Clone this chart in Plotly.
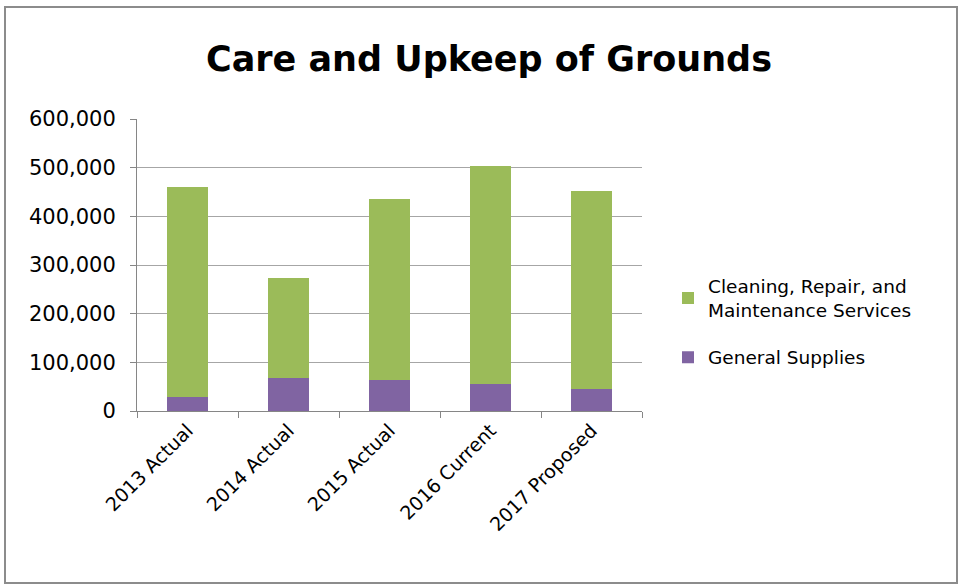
import plotly.graph_objects as go

categories = ["2013 Actual", "2014 Actual", "2015 Actual", "2016 Current", "2017 Proposed"]
general_supplies = [29000, 68000, 63000, 55000, 45000]
cleaning_services = [432000, 205000, 372000, 449000, 408000]
tick_vals = [0, 100000, 200000, 300000, 400000, 500000, 600000]
tick_text = ["0", "100,000", "200,000", "300,000", "400,000", "500,000", "600,000"]

FONT = "DejaVu Sans, sans-serif"

fig = go.Figure()
fig.add_trace(go.Bar(x=categories, y=general_supplies, name="General Supplies",
                     legendgroup="g1", legendrank=2,
                     marker=dict(color="#8064A2", line=dict(width=0))))
fig.add_trace(go.Bar(x=categories, y=cleaning_services,
                     name="Cleaning, Repair, and<br>Maintenance Services",
                     legendgroup="g2", legendrank=1,
                     marker=dict(color="#9BBB59", line=dict(width=0))))

L, R, T, B = 137, 319, 119, 177
W, H = 961, 588
pw, ph = W - L - R, H - T - B

fig.update_layout(
    width=W, height=H,
    margin=dict(l=L, r=R, t=T, b=B),
    barmode="stack", bargap=0.6,
    paper_bgcolor="white", plot_bgcolor="white",
    font=dict(family=FONT, size=20, color="#000000"),
    title=dict(text="<b>Care and Upkeep of Grounds</b>", x=489 / W, xanchor="center",
               y=1 - 59 / H, yanchor="middle", font=dict(size=35, family=FONT)),
    showlegend=True,
    legend=dict(x=(668 - L) / pw, xanchor="left", y=(411 - 322) / ph, yanchor="middle",
                font=dict(size=18.5, family=FONT), itemwidth=30, tracegroupgap=20,
                traceorder="grouped",
                bgcolor="rgba(0,0,0,0)"),
    xaxis=dict(showline=True, linecolor="#868686", linewidth=1, ticks="outside",
               tickson="boundaries", ticklen=6, tickcolor="#868686", tickangle=-45,
               tickfont=dict(size=19, family=FONT)),
    yaxis=dict(range=[0, 600000], tickvals=tick_vals, ticktext=tick_text,
               showline=True, linecolor="#868686", linewidth=1, ticks="outside",
               ticklen=6, tickcolor="#868686", showgrid=True, gridcolor="#a6a6a6",
               gridwidth=1, zeroline=False, ticklabelstandoff=10,
               tickfont=dict(size=21, family=FONT)),
    shapes=[dict(type="rect", xref="paper", yref="paper",
                 x0=(5 - L) / pw, x1=(957 - L) / pw,
                 y0=(H - B - 583) / ph, y1=(H - B - 7) / ph,
                 line=dict(color="#8c8c8c", width=2), fillcolor="rgba(0,0,0,0)", layer="below")],
)

fig.write_html("out.html", config={"displayModeBar": False},
               post_script="document.body.style.margin='0';document.body.style.overflow='hidden';")
